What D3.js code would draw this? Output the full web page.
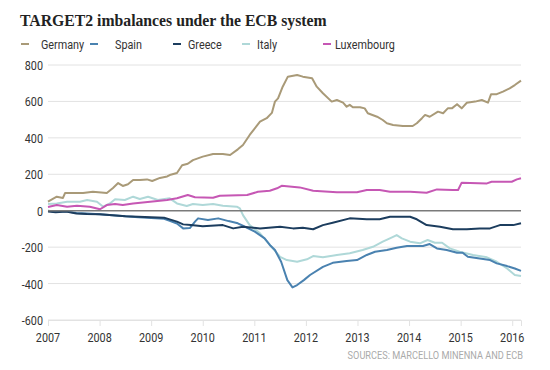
<!DOCTYPE html>
<html>
<head>
    <meta http-equiv="Content-type" content="text/html; charset=utf-8">
    <title>TARGET2 imbalances</title>
    <script type="text/javascript" src="https://cdn.jsdelivr.net/npm/d3@7"></script>
    <style type="text/css">
        body { margin: 0; background: #fff; }
        .title { font-family: "Liberation Serif", serif; font-weight: bold; font-size: 17.5px; fill: #222; }
        .narrow { font-family: Roboto, sans-serif; font-size: 13.5px; fill: #333; }
        .source { font-family: Roboto, sans-serif; font-size: 11.5px; fill: #aaa; }
    </style>
</head>
<body>
<div id="chart"></div>
<script type="text/javascript">
    // series: [decimal year, EUR bn]
    var germany = [[2007.00,50],[2007.17,77],[2007.29,70],[2007.33,97],[2007.43,97],[2007.68,97],[2007.87,104],
        [2008.14,97],[2008.26,125],[2008.36,152],[2008.45,136],[2008.55,145],[2008.65,169],[2008.78,169],[2008.92,172],
        [2009.02,163],[2009.17,180],[2009.31,188],[2009.36,196],[2009.50,207],[2009.60,250],[2009.71,258],[2009.81,278],
        [2010.00,297],[2010.20,311],[2010.39,311],[2010.53,306],[2010.68,337],[2010.78,361],[2010.91,416],
        [2011.11,489],[2011.24,508],[2011.34,537],[2011.40,599],[2011.46,617],[2011.55,681],[2011.65,736],[2011.83,745],[2011.94,736],
        [2012.12,727],[2012.21,681],[2012.33,645],[2012.50,599],[2012.60,608],[2012.72,593],[2012.79,571],[2012.85,581],[2012.91,568],
        [2013.05,568],[2013.14,562],[2013.20,535],[2013.38,516],[2013.49,498],[2013.57,480],[2013.69,471],[2013.88,465],
        [2014.07,465],[2014.15,480],[2014.25,508],[2014.31,526],[2014.40,516],[2014.56,544],[2014.66,535],[2014.75,562],[2014.83,562],[2014.93,585],
        [2015.02,562],[2015.12,593],[2015.28,599],[2015.41,608],[2015.53,593],[2015.59,640],[2015.70,640],[2015.82,654],[2015.95,672],
        [2016.05,690],[2016.17,714]];

    var spain = [[2007.00,0],[2007.15,-5],[2007.35,-3],[2007.55,-12],[2007.75,-15],[2008.00,-20],[2008.25,-25],[2008.5,-30],
        [2008.75,-36],[2009.00,-40],[2009.25,-44],[2009.36,-55],[2009.50,-70],[2009.62,-97],[2009.75,-95],[2009.85,-60],
        [2009.91,-42],[2010.10,-51],[2010.30,-42],[2010.50,-57],[2010.68,-69],[2010.82,-88],[2011.01,-115],[2011.20,-152],
        [2011.30,-188],[2011.40,-216],[2011.52,-280],[2011.64,-381],[2011.74,-421],[2011.83,-408],[2011.96,-381],[2012.08,-353],
        [2012.33,-308],[2012.52,-286],[2012.79,-276],[2012.99,-271],[2013.18,-243],[2013.34,-225],[2013.57,-216],[2013.76,-203],
        [2013.96,-194],[2014.27,-194],[2014.40,-183],[2014.54,-207],[2014.73,-216],[2014.93,-231],[2015.04,-231],[2015.14,-253],
        [2015.37,-262],[2015.57,-271],[2015.70,-289],[2015.90,-304],[2016.05,-317],[2016.17,-330]];

    var greece = [[2007.00,-5],[2007.15,-8],[2007.35,-5],[2007.55,-15],[2007.75,-18],[2008.00,-20],[2008.25,-25],[2008.5,-30],
        [2008.75,-33],[2009.00,-36],[2009.25,-38],[2009.50,-60],[2009.62,-75],[2009.77,-79],[2010.00,-85],[2010.39,-79],
        [2010.59,-97],[2010.78,-88],[2011.11,-97],[2011.50,-88],[2011.75,-97],[2011.94,-93],[2012.14,-102],[2012.33,-79],
        [2012.52,-66],[2012.85,-42],[2013.18,-47],[2013.43,-47],[2013.63,-33],[2014.02,-33],[2014.15,-47],[2014.34,-79],
        [2014.60,-88],[2014.85,-102],[2015.12,-102],[2015.37,-97],[2015.57,-97],[2015.76,-79],[2016.02,-79],[2016.17,-69]];

    var italy = [[2007.00,37],[2007.17,40],[2007.37,49],[2007.62,49],[2007.76,59],[2007.95,49],[2008.07,22],[2008.20,40],
        [2008.30,63],[2008.49,59],[2008.65,77],[2008.78,64],[2008.94,77],[2009.13,59],[2009.36,68],[2009.50,40],[2009.69,26],
        [2009.81,37],[2010.00,31],[2010.20,37],[2010.39,27],[2010.66,22],[2010.72,13],[2010.78,-24],[2010.91,-79],[2011.11,-124],
        [2011.30,-188],[2011.50,-253],[2011.63,-271],[2011.83,-280],[2012.02,-267],[2012.14,-249],[2012.33,-256],[2012.60,-243],
        [2012.85,-234],[2013.10,-216],[2013.30,-198],[2013.49,-170],[2013.67,-146],[2013.76,-134],[2013.86,-152],[2014.02,-170],
        [2014.21,-179],[2014.36,-161],[2014.50,-176],[2014.64,-176],[2014.79,-207],[2014.98,-225],[2015.24,-243],[2015.51,-256],
        [2015.70,-280],[2015.90,-317],[2016.05,-353],[2016.17,-359]];

    var luxembourg = [[2007.00,20],[2007.17,31],[2007.37,22],[2007.56,27],[2007.81,22],[2008.01,8],[2008.14,31],[2008.30,37],
        [2008.45,31],[2008.65,40],[2008.98,49],[2009.31,59],[2009.50,68],[2009.71,86],[2009.85,74],[2010.20,71],[2010.33,82],
        [2010.86,86],[2011.07,104],[2011.30,110],[2011.44,123],[2011.53,137],[2011.88,128],[2012.14,110],[2012.60,101],
        [2012.99,101],[2013.18,114],[2013.43,114],[2013.63,104],[2014.02,104],[2014.34,99],[2014.54,117],[2014.85,114],
        [2014.95,114],[2015.02,154],[2015.51,150],[2015.60,159],[2015.99,159],[2016.09,172],[2016.17,178]];

    var names = ["Germany", "Spain", "Greece", "Italy", "Luxembourg"];
    var seriesData = [germany, spain, greece, italy, luxembourg];
    var colors = ["#a99a78", "#4a82b0", "#1c3d5e", "#afd8d8", "#c657b4"];
    var yTicks = [-600, -400, -200, 0, 200, 400, 600, 800];
    var xTicks = [2007, 2008, 2009, 2010, 2011, 2012, 2013, 2014, 2015, 2016];

    var width = 550, height = 370;
    var squeeze = 0.8;   // condensed look for the sans labels
    var svg = d3.select('#chart').append('svg')
        .attr('width', width).attr('height', height);

    var x = d3.scaleLinear().domain([2007, 2016.17]).range([48, 521]);
    var y = d3.scaleLinear().domain([-600, 800]).range([320, 65]);

    function narrowText(g, tx, ty, anchor, str, cls) {
        return g.append('text').attr('class', cls || 'narrow')
            .attr('transform', 'translate(' + tx + ',' + ty + ') scale(' + squeeze + ',1)')
            .attr('text-anchor', anchor)
            .text(str);
    }

    svg.append('text').attr('class', 'title')
        .attr('transform', 'translate(20,26) scale(0.9,1)')
        .text('TARGET2 imbalances under the ECB system');

    // legend
    var legendX = [21, 90, 173, 242, 323];
    var legendTextX = [41, 115, 188, 257, 335];
    var legend = svg.append('g');
    names.forEach(function(n, i) {
        legend.append('line')
            .attr('x1', legendX[i]).attr('x2', legendX[i] + 8)
            .attr('y1', 44).attr('y2', 44)
            .attr('stroke', colors[i]).attr('stroke-width', 2);
        narrowText(legend, legendTextX[i], 48.5, 'start', n);
    });

    // grid + y labels
    var grid = svg.append('g');
    grid.selectAll('line.grid').data(yTicks.filter(function(d) { return d != 0; })).enter()
        .append('line').attr('class', 'grid')
        .attr('x1', 48).attr('x2', 521)
        .attr('y1', function(d) { return y(d); }).attr('y2', function(d) { return y(d); })
        .attr('stroke', '#e2e2e2').attr('stroke-width', 1);
    yTicks.forEach(function(d) {
        narrowText(grid, 43, y(d) + 5, 'end', d);
    });

    // x axis
    var xAxis = d3.axisBottom(x).tickValues(xTicks).tickFormat('').tickSize(6);
    var gx = svg.append('g')
        .attr('transform', 'translate(0,' + y(-600) + ')')
        .call(xAxis);
    gx.select('.domain').attr('stroke', '#e2e2e2');
    gx.selectAll('.tick line').attr('stroke', '#e2e2e2');
    xTicks.forEach(function(d) {
        narrowText(svg, x(d), 342, 'middle', d);
    });

    var line = d3.line()
        .x(function(d) { return x(d[0]); })
        .y(function(d) { return y(d[1]); });

    // draw order: italy under, then others
    var order = [3, 4, 0, 1, 2];
    order.forEach(function(i) {
        svg.append('path').datum(seriesData[i])
            .attr('d', line)
            .attr('fill', 'none')
            .attr('stroke', colors[i])
            .attr('stroke-width', 2)
            .attr('stroke-linejoin', 'round');
    });

    // zero line
    svg.append('line')
        .attr('x1', 48).attr('x2', 521)
        .attr('y1', y(0)).attr('y2', y(0))
        .attr('stroke', '#7a7a7a').attr('stroke-width', 1.5);

    narrowText(svg, 523, 359, 'end', 'SOURCES: MARCELLO MINENNA AND ECB', 'source');
</script>
</body>
</html>
